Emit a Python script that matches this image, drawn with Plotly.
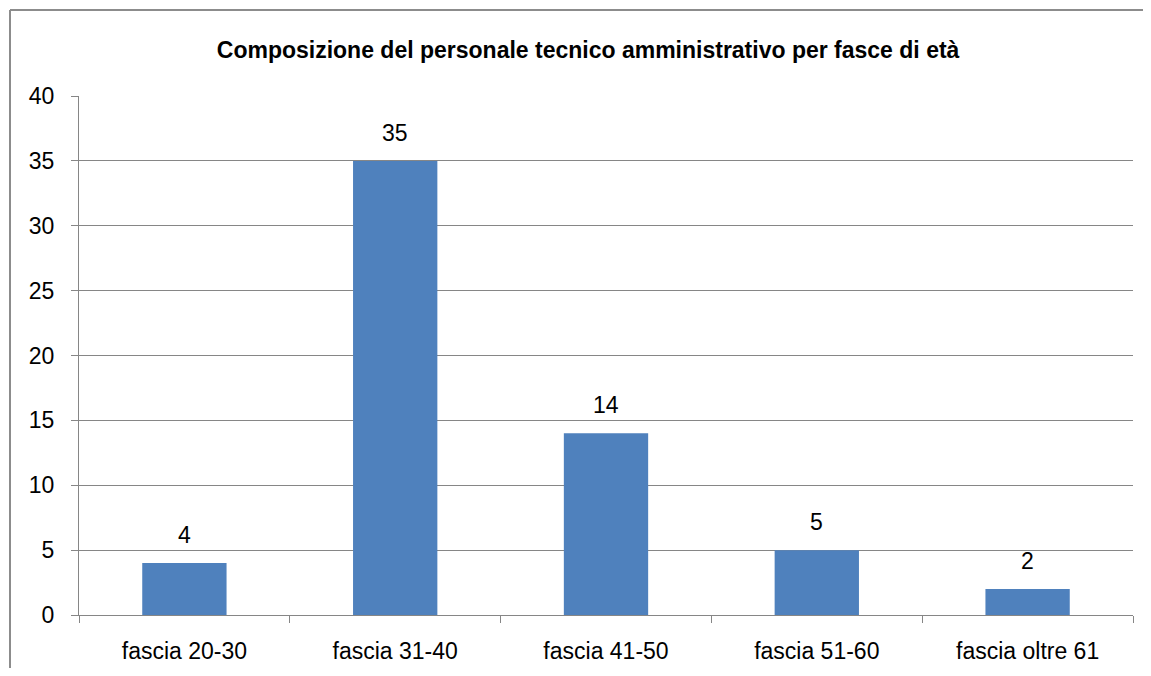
import plotly.graph_objects as go

# age bands and number of staff
categories = ['fascia 20-30', 'fascia 31-40', 'fascia 41-50', 'fascia 51-60', 'fascia oltre 61']
values = [4, 35, 14, 5, 2]
y_ticks = [0, 5, 10, 15, 20, 25, 30, 35, 40]

# the page body adds an 8px margin, so the figure is sized to fit the window
W, H = 1135, 660
L, R, T, B = 71, 10, 88, 53
GREY = '#868686'
FONT = 'Liberation Sans, Arial, sans-serif'

fig = go.Figure(go.Bar(
    x=categories, y=values,
    marker=dict(color='#4F81BD', line=dict(width=0)),
    hoverinfo='x+y',
))

# value labels above the bars
for c, v in zip(categories, values):
    fig.add_annotation(x=c, y=v, text=str(v), showarrow=False, yanchor='bottom', yshift=13,
                       font=dict(size=23, color='black', family=FONT))

# outer chart frame (only the left and top edges are visible)
pw, ph = W - L - R, H - T - B
x0 = (2 - L) / pw
y1 = (H - B - 2) / ph
fig.add_shape(type='line', xref='paper', yref='paper', x0=x0, x1=x0, y0=-0.3, y1=y1,
              line=dict(color='#8c8c8c', width=2))
fig.add_shape(type='line', xref='paper', yref='paper', x0=x0, x1=1.2, y0=y1, y1=y1,
              line=dict(color='#8c8c8c', width=2))

fig.update_layout(
    width=W, height=H,
    margin=dict(l=L, r=R, t=T, b=B, autoexpand=False),
    paper_bgcolor='white', plot_bgcolor='white',
    bargap=0.6,
    showlegend=False,
    font=dict(family=FONT, size=23, color='black'),
    title=dict(text='<b>Composizione del personale tecnico amministrativo per fasce di età</b>',
               xref='paper', x=0.483, xanchor='center', y=1 - 42 / H, yanchor='middle',
               font=dict(size=23, family=FONT, color='black')),
    xaxis=dict(showline=True, linecolor=GREY, linewidth=1, ticks='outside', ticklen=7,
               tickcolor=GREY, tickson='boundaries', showgrid=False, ticklabelstandoff=15,
               automargin=False),
    yaxis=dict(range=[0, 40], tickvals=y_ticks, showline=True, linecolor=GREY, linewidth=1,
               ticks='outside', ticklen=7, tickcolor=GREY, showgrid=True, gridcolor=GREY,
               gridwidth=1, zeroline=False, ticklabelstandoff=12, automargin=False),
)

fig.write_html('out.html', config={'displayModeBar': False})
